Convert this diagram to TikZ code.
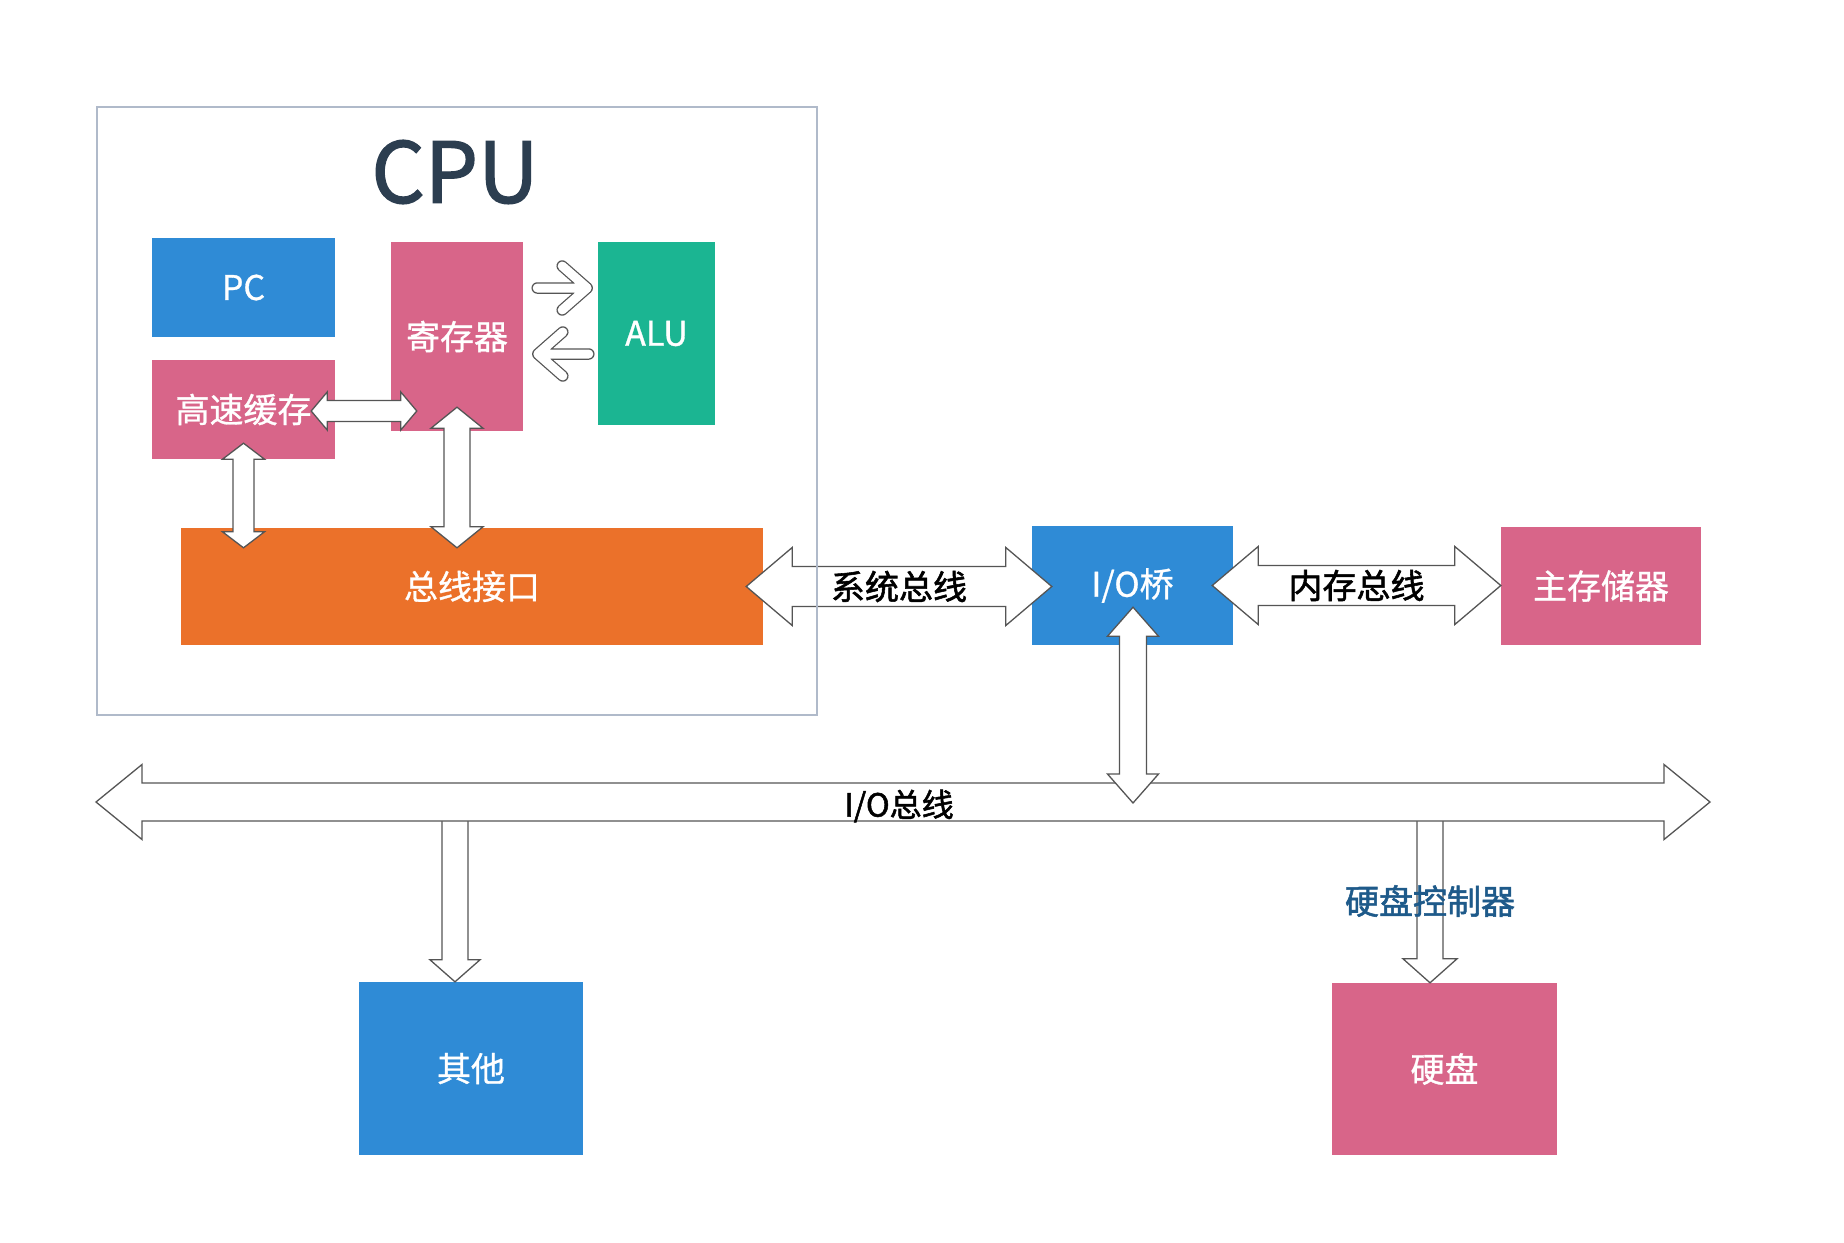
\documentclass[tikz,border=0pt]{standalone}
\usepackage{fontspec}
\setmainfont{Noto Sans CJK SC}[RawFeature={embolden=0.9}]
\newfontfamily\lblfont{Noto Sans CJK SC}[RawFeature={embolden=1.6}]
\usetikzlibrary{calc}
\definecolor{cblue}{RGB}{47,139,214}
\definecolor{cpink}{RGB}{216,101,137}
\definecolor{cteal}{RGB}{27,181,146}
\definecolor{corange}{RGB}{235,113,42}
\definecolor{cframe}{RGB}{176,186,202}
\definecolor{ctitle}{RGB}{44,62,80}
\definecolor{ctrl}{RGB}{30,90,138}
\definecolor{aline}{RGB}{85,85,85}
\newcommand\hdarrow[5]{\filldraw[barrow] (#1) -- ($(#1)+(#5,-#4)$) -- ($(#1)+(#5,-#3)$) -- ($(#2)+(-#5,-#3)$) -- ($(#2)+(-#5,-#4)$) -- (#2) -- ($(#2)+(-#5,#4)$) -- ($(#2)+(-#5,#3)$) -- ($(#1)+(#5,#3)$) -- ($(#1)+(#5,#4)$) -- cycle;}
\newcommand\vdarrow[5]{\filldraw[barrow] (#1) -- ($(#1)+(#4,#5)$) -- ($(#1)+(#3,#5)$) -- ($(#2)+(#3,-#5)$) -- ($(#2)+(#4,-#5)$) -- (#2) -- ($(#2)+(-#4,-#5)$) -- ($(#2)+(-#3,-#5)$) -- ($(#1)+(-#3,#5)$) -- ($(#1)+(-#4,#5)$) -- cycle;}
\newcommand\sdarrow[5]{\filldraw[barrow] ($(#1)+(-#3,0)$) -- ($(#1)+(#3,0)$) -- ($(#2)+(#3,-#5)$) -- ($(#2)+(#4,-#5)$) -- (#2) -- ($(#2)+(-#4,-#5)$) -- ($(#2)+(-#3,-#5)$) -- cycle;}
\begin{document}
\begin{tikzpicture}[x=1pt,y=-1pt,
  box/.style={rectangle, inner sep=0pt, text=white, font=\fontsize{34}{40}\selectfont},
  barrow/.style={fill=white, draw=aline, line width=1.3pt, line join=miter},
  lbl/.style={font=\lblfont\fontsize{34}{40}\selectfont, inner sep=0pt},
  chevo/.style={draw=aline, line width=11.5pt, line cap=round, line join=round},
  chevi/.style={draw=white, line width=9pt, line cap=round, line join=round}]
\useasboundingbox (0,0) rectangle (1844,1242);
\fill[white] (0,0) rectangle (1844,1242);

% boxes
\node[box, fill=cblue, minimum width=183pt, minimum height=99pt] (pc) at (243.5,287.5) {PC};
\node[box, fill=cpink, minimum width=132pt, minimum height=189pt] (reg) at (457,336.5) {寄存器};
\node[box, fill=cteal, minimum width=117pt, minimum height=183pt] (alu) at (656.5,333.5) {ALU};
\node[box, fill=cpink, minimum width=183pt, minimum height=99pt] (cache) at (243.5,409.5) {高速缓存};
\node[box, fill=corange, minimum width=582pt, minimum height=117pt] (iface) at (472,586.5) {总线接口};
\node[box, fill=cblue, minimum width=201pt, minimum height=119pt] (bridge) at (1132.5,585.5) {I/O桥};
\node[box, fill=cpink, minimum width=200pt, minimum height=118pt] (mem) at (1601,586) {主存储器};
\node[box, fill=cblue, minimum width=224pt, minimum height=173pt] (other) at (471,1068.5) {其他};
\node[box, fill=cpink, minimum width=225pt, minimum height=172pt] (disk) at (1444.5,1069) {硬盘};

% connector end points
\path (iface.east) ++(-17,0) coordinate (sysL);
\path (sysL -| bridge.west) ++(20,0) coordinate (sysR);
\path (bridge.east) ++(-21,0) coordinate (memL);
\path (memL -| mem.west) coordinate (memR);
\path (cache.east) ++(-24,1.5) coordinate (crL);
\path (crL -| reg.west) ++(26,0) coordinate (crR);
\path (cache.south) ++(0,-16) coordinate (ciT);
\path (ciT |- iface.north) ++(0,20) coordinate (ciB);
\path (reg.south) ++(0,-24) coordinate (riT);
\path (riT |- iface.north) ++(0,20) coordinate (riB);
\path (bridge.south) ++(0.5,-38) coordinate (biT);
\coordinate (busL) at (96,802);
\coordinate (busR) at (1710,802);
\path (biT |- busL) ++(0,1) coordinate (biB);
\coordinate (oT) at (455,802);
\path (oT |- other.north) coordinate (oB);
\coordinate (dT) at (1430,802);
\path (dT |- disk.north) coordinate (dB);

% block arrows
\sdarrow{oT}{oB}{13}{25}{22}
\sdarrow{dT}{dB}{13}{27}{24}
\hdarrow{busL}{busR}{19}{37.5}{46}
\vdarrow{biT}{biB}{13.5}{25.5}{29}
\hdarrow{sysL}{sysR}{20}{39}{46}
\hdarrow{memL}{memR}{20}{39}{46}
\hdarrow{crL}{crR}{10.5}{19}{16}
\vdarrow{ciT}{ciB}{10.5}{21}{16}
\vdarrow{riT}{riB}{13}{26}{21}

% chevron arrows between register and ALU
\path (reg.east) ++(14,-48.5) coordinate (c1s);
\path (c1s) ++(50,0) coordinate (c1t);
\path (c1t) ++(-25,-22) coordinate (c1a);
\path (c1t) ++(-25,22) coordinate (c1b);
\path (alu.west) ++(-9,20.5) coordinate (c2s);
\path (c2s) ++(-51,0) coordinate (c2t);
\path (c2t) ++(25,-22) coordinate (c2a);
\path (c2t) ++(25,22) coordinate (c2b);
\draw[chevo] (c1s) -- (c1t) (c1a) -- (c1t) -- (c1b);
\draw[chevi] (c1s) -- (c1t) (c1a) -- (c1t) -- (c1b);
\draw[chevo] (c2s) -- (c2t) (c2a) -- (c2t) -- (c2b);
\draw[chevi] (c2s) -- (c2t) (c2a) -- (c2t) -- (c2b);

% labels
\node[lbl] (sysl) at ($(sysL)!0.5!(sysR)$) {系统总线};
\node[lbl] (meml) at ($(memL)!0.5!(memR)$) {内存总线};
\node[lbl, font=\lblfont\fontsize{32}{36}\selectfont] (busl) at (899,806) {I/O总线};
\node[lbl, text=ctrl] (ctrll) at (1430,901) {硬盘控制器};

% CPU frame and title
\node[text=ctitle, font=\lblfont\fontsize{84}{96}\selectfont, inner sep=0pt] (title) at (455,172) {CPU};
\node[draw=cframe, line width=1.5pt, minimum width=720pt, minimum height=608pt, inner sep=0pt] (cpu) at (457,411) {};
\end{tikzpicture}
\end{document}
